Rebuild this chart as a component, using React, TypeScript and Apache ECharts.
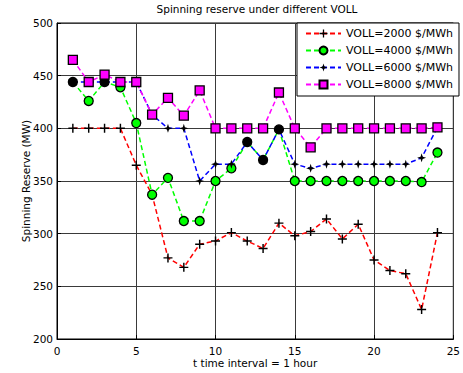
import React, { useEffect, useRef } from "react";
import * as echarts from "echarts";

const hours = [1, 2, 3, 4, 5, 6, 7, 8, 9, 10, 11, 12, 13, 14, 15, 16, 17, 18, 19, 20, 21, 22, 23, 24];
const voll2000 = [400, 400, 400, 400, 365, 337, 277, 268, 290, 293, 301, 293, 286, 310, 298, 302, 314, 295, 309, 275, 265, 262, 228, 301];
const voll4000 = [444, 426, 444, 439, 405, 337, 353, 312, 312, 350, 362, 387, 370, 399, 350, 350, 350, 350, 350, 350, 350, 350, 349, 377];
const voll6000 = [444, 444, 444, 444, 444, 413, 400, 400, 350, 366, 366, 387, 370, 399, 366, 362, 366, 366, 366, 366, 366, 366, 372, 401];
const voll8000 = [465, 444, 451, 444, 444, 413, 429, 412, 436, 400, 400, 400, 400, 434, 400, 382, 400, 400, 400, 400, 400, 400, 400, 401];
const seriesNames = ["VOLL=2000 $/MWh", "VOLL=4000 $/MWh", "VOLL=6000 $/MWh", "VOLL=8000 $/MWh"];
const xTicks = { min: 0, max: 25, interval: 5 };
const yTicks = { min: 200, max: 500, interval: 50 };

const FONT = "DejaVu Sans";
const PLUS = "path://M4.2,0H5.8V4.2H10V5.8H5.8V10H4.2V5.8H0V4.2H4.2Z";
const STAR = "path://M5,0L6.2,3.8L10,5L6.2,6.2L5,10L3.8,6.2L0,5L3.8,3.8Z";

export default function App() {
  const ref = useRef<HTMLDivElement>(null);
  useEffect(() => {
    if (!ref.current) return;
    const chart = echarts.init(ref.current, null, { renderer: "svg" });
    const pair = (arr: number[]) => hours.map((h, i) => [h, arr[i]]);
    const greenData = hours.map((h, i) =>
      voll4000[i] === voll6000[i]
        ? { value: [h, voll4000[i]], itemStyle: { color: "#000000" } }
        : { value: [h, voll4000[i]] }
    );
    const dash = [5, 3];
    chart.setOption({
      animation: false,
      backgroundColor: "#ffffff",
      textStyle: { fontFamily: FONT },
      title: {
        text: "Spinning reserve under different VOLL",
        left: 257,
        top: 3,
        padding: 0,
        textAlign: "center",
        textStyle: { fontFamily: FONT, fontSize: 10.5, fontWeight: "normal", color: "#000" },
      },
      grid: {
        left: 57,
        right: 6,
        top: 23,
        bottom: 34,
        show: true,
        borderColor: "#000",
        borderWidth: 1,
        backgroundColor: "transparent",
      },
      legend: {
        orient: "vertical",
        left: 297,
        top: 23,
        data: seriesNames,
        backgroundColor: "#ffffff",
        borderColor: "#000",
        borderWidth: 1,
        borderRadius: 0,
        padding: [5, 6, 6, 8],
        itemWidth: 35,
        itemHeight: 10,
        itemGap: 6,
        textStyle: { fontFamily: FONT, fontSize: 11, color: "#000" },
      },
      xAxis: {
        type: "value",
        min: xTicks.min,
        max: xTicks.max,
        interval: xTicks.interval,
        name: "t time interval = 1 hour",
        nameLocation: "middle",
        nameGap: 18,
        nameMoveOverlap: false,
        nameTextStyle: { fontFamily: FONT, fontSize: 10.5, color: "#000" },
        axisLine: { show: true, lineStyle: { color: "#000", width: 1 } },
        axisTick: { show: true, inside: true, length: 4, lineStyle: { color: "#000" } },
        axisLabel: { fontFamily: FONT, fontSize: 10.5, color: "#000", margin: 6 },
        splitLine: { show: true, lineStyle: { color: "#3a3a3a", width: 1 } },
      },
      yAxis: {
        type: "value",
        min: yTicks.min,
        max: yTicks.max,
        interval: yTicks.interval,
        name: "Spinning Reserve (MW)",
        nameLocation: "middle",
        nameGap: 26,
        nameMoveOverlap: false,
        nameTextStyle: { fontFamily: FONT, fontSize: 10.5, color: "#000" },
        axisLine: { show: true, lineStyle: { color: "#000", width: 1 } },
        axisTick: { show: true, inside: true, length: 4, lineStyle: { color: "#000" } },
        axisLabel: { fontFamily: FONT, fontSize: 10.5, color: "#000", margin: 4 },
        splitLine: { show: true, lineStyle: { color: "#3a3a3a", width: 1 } },
      },
      series: [
        {
          name: seriesNames[0],
          type: "line",
          data: pair(voll2000),
          symbol: PLUS,
          symbolSize: 9,
          itemStyle: { color: "#000000", borderWidth: 0 },
          lineStyle: { color: "#ff0000", width: 1.5, type: dash },
        },
        {
          name: seriesNames[1],
          type: "line",
          data: greenData,
          symbol: "circle",
          symbolSize: 9,
          itemStyle: { color: "#00ff00", borderColor: "#000", borderWidth: 1.3 },
          lineStyle: { color: "#00ff00", width: 1.5, type: dash },
        },
        {
          name: seriesNames[2],
          type: "line",
          data: pair(voll6000),
          symbol: STAR,
          symbolSize: 9,
          itemStyle: { color: "#000000", borderWidth: 0 },
          lineStyle: { color: "#0000ff", width: 1.5, type: dash },
        },
        {
          name: seriesNames[3],
          type: "line",
          data: pair(voll8000),
          symbol: "rect",
          symbolSize: 9,
          itemStyle: { color: "#ff00ff", borderColor: "#000", borderWidth: 1.3 },
          lineStyle: { color: "#ff00ff", width: 1.5, type: dash },
        },
      ],
    });
    return () => chart.dispose();
  }, []);
  return (
    <div
      ref={ref}
      style={{ position: "fixed", left: 0, top: 0, width: 463, height: 373, background: "#fff" }}
    />
  );
}
